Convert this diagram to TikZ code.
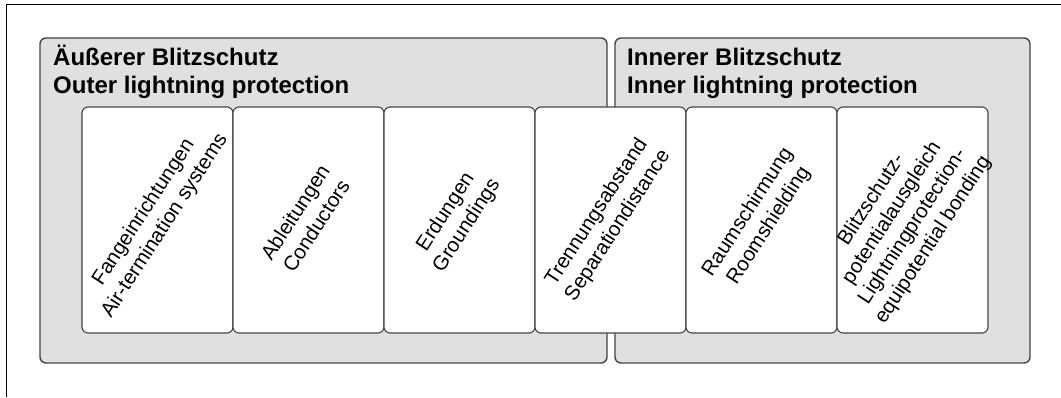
\documentclass[tikz,border=0pt]{standalone}
\usepackage{fontspec}
\setmainfont{Liberation Sans}
\definecolor{groupfill}{HTML}{E0E0E0}
\definecolor{edge}{HTML}{444444}
\tikzset{
  groupbox/.style={draw=edge, line width=1.4pt, fill=groupfill, rounded corners=6pt,
    minimum height=325pt, inner sep=0pt},
  grouptitle/.style={anchor=base west, align=left, inner sep=0pt,
    font=\bfseries\fontsize{24}{28}\selectfont},
  partbox/.style={draw=edge, line width=1.1pt, fill=white, rounded corners=6pt,
    minimum width=151pt, minimum height=226pt, inner sep=0pt},
  partlabel/.style={rotate=57, align=center, inner sep=0pt,
    font=\fontsize{20.5}{25}\selectfont}
}
\begin{document}
\begin{tikzpicture}[x=1pt, y=-1pt]
  \useasboundingbox (0,0) rectangle (1061,397);
  % frame lines along the top and left edges
  \coordinate (ftl) at (6.5,4.5);
  \coordinate (ftr) at (1061,4.5);
  \coordinate (fbl) at (6.5,397);
  \draw[line width=1pt] (fbl) -- (ftl) -- (ftr);

  % the two groups (title anchor sits on the baseline of the last line)
  \node[groupbox, minimum width=567pt] (outer) at (323.5,200.5) {};
  \node[groupbox, minimum width=415pt] (inner) at (822.5,200.5) {};
  \node[grouptitle] (outertitle) at (53,93) {Äußerer Blitzschutz\\Outer lightning protection};
  \node[grouptitle] (innertitle) at (627,93) {Innerer Blitzschutz\\Inner lightning protection};

  % the six components
  \node[partbox] (p1) at (157.5,220) {};
  \node[partbox] (p2) at (308.5,220) {};
  \node[partbox] (p3) at (459.5,220) {};
  \node[partbox] (p4) at (610.5,220) {};
  \node[partbox] (p5) at (761.5,220) {};
  \node[partbox] (p6) at (912.5,220) {};

  % diagonal labels, each set a little left of its box centre
  \node[partlabel] (l1) at ([shift={(-3pt,1pt)}]p1.center) {Fangeinrichtungen\\Air-termination systems};
  \node[partlabel] (l2) at ([shift={(-3pt,1pt)}]p2.center) {Ableitungen\\Conductors};
  \node[partlabel] (l3) at ([shift={(-3pt,1pt)}]p3.center) {Erdungen\\Groundings};
  \node[partlabel] (l4) at ([shift={(-3pt,1pt)}]p4.center) {Trennungsabstand\\Separationdistance};
  \node[partlabel] (l5) at ([shift={(-3pt,1pt)}]p5.center) {Raumschirmung\\Roomshielding};
  \node[partlabel, font=\fontsize{20.5}{24.5}\selectfont] (l6) at ([shift={(-10pt,0pt)}]p6.center) {Blitzschutz-\\potentialausgleich\\Lightningprotection-\\equipotential bonding};
\end{tikzpicture}
\end{document}
